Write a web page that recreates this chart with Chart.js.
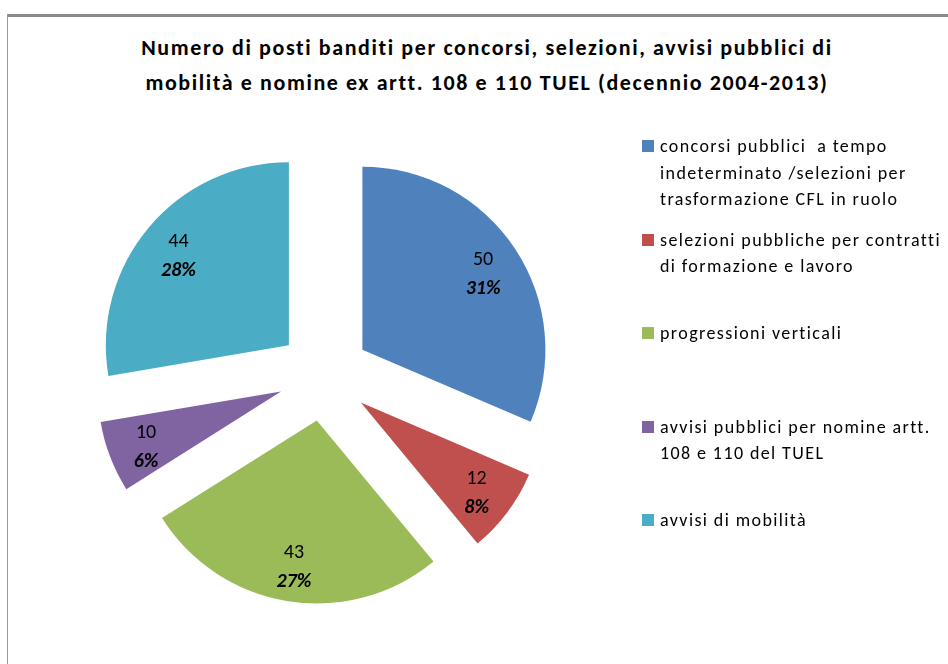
<!DOCTYPE html>
<html>
<head>
<meta charset="utf-8">
<script src="https://cdn.jsdelivr.net/npm/chart.js@4"></script>
<style>
  body { margin: 0; background: #fff; font-family: Carlito, "Liberation Sans Narrow", "Open Sans", sans-serif; }
  #wrap { position: relative; width: 948px; height: 664px; overflow: hidden; }
  #frame { position: absolute; left: 7px; top: 14px; right: -5px; bottom: -5px;
           border-top: 3px solid #8a8a8a; border-left: 1px solid #9a9a9a; }
  #title { position: absolute; left: 0; width: 974px; top: 30px; text-align: center;
           font-weight: bold; font-size: 22px; letter-spacing: 1.6px; line-height: 35px; color: #000; }
  #chart { position: absolute; left: 0; top: 0; }
  #legend { position: absolute; left: 642px; top: 133px; }
  .item { height: 93.5px; position: relative; }
  .sw { position: absolute; left: 0; top: 7px; width: 12px; height: 12px; }
  .txt { position: absolute; left: 18px; top: 0; font-size: 18px; letter-spacing: 1.4px; line-height: 26.5px; white-space: pre; color: #000; }
</style>
</head>
<body>
<div id="wrap">
  <div id="frame"></div>
  <div id="title">Numero di posti banditi per concorsi, selezioni, avvisi pubblici di<br>mobilità e nomine ex artt. 108 e 110 TUEL (decennio 2004-2013)</div>
  <canvas id="chart" width="948" height="664"></canvas>
  <div id="legend"></div>
</div>
<script>
// categories (legend text, one entry per line)
var categories = [
  ["concorsi pubblici  a tempo", "indeterminato /selezioni per", "trasformazione CFL in ruolo"],
  ["selezioni pubbliche per contratti", "di formazione e lavoro"],
  ["progressioni verticali"],
  ["avvisi pubblici per nomine artt.", "108 e 110 del TUEL"],
  ["avvisi di mobilità"]
];
var posti = [50, 12, 43, 10, 44];
var percentuali = ["31%", "8%", "27%", "6%", "28%"];
var colori = ["#4F81BD", "#C0504D", "#9BBB59", "#8064A2", "#4BACC6"];

// legend
var legend = document.getElementById("legend");
categories.forEach(function (lines, i) {
  var item = document.createElement("div");
  item.className = "item";
  item.innerHTML = '<div class="sw" style="background:' + colori[i] + '"></div>' +
    '<div class="txt">' + lines.join("\n") + '</div>';
  legend.appendChild(item);
});

// exploded slices: draw each arc moved out along its middle angle
var explode = {
  id: "explode",
  beforeDatasetDraw: function (chart, args, opts) {
    var ctx = chart.ctx;
    args.meta.data.forEach(function (arc) {
      var mid = (arc.startAngle + arc.endAngle) / 2;
      ctx.save();
      ctx.translate(Math.cos(mid) * opts.distance, Math.sin(mid) * opts.distance);
      arc.draw(ctx);
      ctx.restore();
    });
    return false;
  },
  afterDatasetsDraw: function (chart, args, opts) {
    var ctx = chart.ctx;
    var font = "Carlito, 'Liberation Sans Narrow', 'Open Sans', sans-serif";
    chart.getDatasetMeta(0).data.forEach(function (arc, i) {
      var mid = (arc.startAngle + arc.endAngle) / 2;
      var r = opts.distance + arc.outerRadius * opts.labelPos;
      var x = arc.x + Math.cos(mid) * r;
      var y = arc.y + Math.sin(mid) * r;
      ctx.save();
      ctx.fillStyle = "#000";
      ctx.textAlign = "center";
      ctx.textBaseline = "middle";
      ctx.font = "20px " + font;
      ctx.fillText(String(posti[i]), x, y - 10);
      ctx.font = "italic bold 20px " + font;
      ctx.fillText(percentuali[i], x, y + 19);
      ctx.restore();
    });
  }
};

new Chart(document.getElementById("chart"), {
  type: "pie",
  data: {
    labels: categories,
    datasets: [{
      data: posti,
      backgroundColor: colori,
      borderWidth: 0
    }]
  },
  options: {
    responsive: false,
    animation: false,
    radius: 183,
    layout: { padding: { left: 114, right: 414, top: 165, bottom: 79 } },
    plugins: {
      legend: { display: false },
      tooltip: { enabled: false },
      explode: { distance: 46, labelPos: 0.79 }
    }
  },
  plugins: [explode]
});
</script>
</body>
</html>
